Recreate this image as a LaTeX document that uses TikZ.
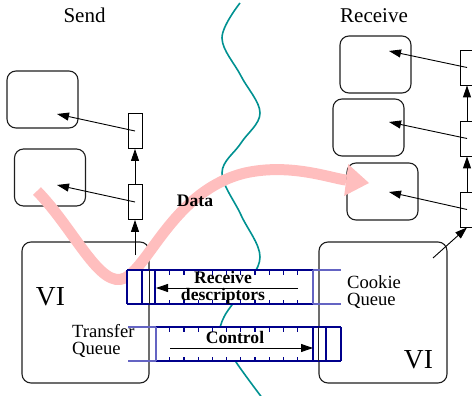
\documentclass[tikz,border=0pt]{standalone}
\usepackage{fontspec}
\setmainfont{Liberation Serif}
\usetikzlibrary{arrows.meta,calc}

\definecolor{qblue}{RGB}{0,0,140}
\definecolor{qlight}{RGB}{100,100,195}
\definecolor{wavecol}{RGB}{0,145,145}
\definecolor{flowcol}{RGB}{255,190,190}
\definecolor{edgecol}{RGB}{30,30,30}

\begin{document}
\begin{tikzpicture}[x=1pt,y=-1pt,
  buf/.style={draw=edgecol, line width=1.1pt, rounded corners=9pt,
    minimum width=71pt, minimum height=57pt, inner sep=0pt},
  vibox/.style={draw=edgecol, line width=1.1pt, rounded corners=9pt,
    minimum width=127pt, minimum height=141pt, inner sep=0pt},
  cell/.style={draw=black, line width=0.9pt, minimum width=14pt,
    minimum height=35pt, inner sep=0pt},
  ptr/.style={-{Triangle[length=12pt,width=8pt]}, line width=0.9pt},
  qline/.style={draw=qblue, line width=1.2pt},
  qthin/.style={draw=qlight, line width=1.1pt},
  txt/.style={inner sep=0pt, font=\fontsize{18.6}{17}\selectfont, align=left},
  btxt/.style={inner sep=0pt, font=\fontsize{17.6}{17.7}\selectfont\bfseries, align=center},
  head/.style={inner sep=0pt, font=\fontsize{21}{24}\selectfont},
  big/.style={inner sep=0pt, font=\fontsize{27.5}{30}\selectfont},
]
\useasboundingbox (0,0) rectangle (472,396);

% titles
\node[head, anchor=base] (send) at (84.5,22.7) {Send};
\node[head, anchor=base] (recv) at (374,22.7) {Receive};

% buffers on the send side
\node[buf] (l1) at (42.5,99.5) {};
\node[buf] (l2) at (50,177.5) {};
% buffers on the receive side
\node[buf] (r1) at (375.5,64.5) {};
\node[buf] (r2) at (368.5,127.5) {};
\node[buf] (r3) at (382.5,191.5) {};

% descriptor cells
\node[cell] (lt) at (135,131) {};
\node[cell] (lb) at (135,202) {};
\node[cell] (rc1) at (467,67.5) {};
\node[cell] (rc2) at (467,138.5) {};
\node[cell] (rc3) at (467,209.5) {};

% VI endpoints
\node[vibox] (vil) at (85.5,312.5) {};
\node[vibox, minimum width=128pt] (vir) at (383,312.5) {};

% pointers from descriptors to buffers
\draw[ptr] (lt.center) -- ($(l1.center)+(14.5,14.5)$);
\draw[ptr] (lb.center) -- ($(l2.center)+(7,7.5)$);
\draw[ptr] (rc1.center) -- ($(r1.center)+(13.5,-13.5)$);
\draw[ptr] (rc2.center) -- ($(r2.center)+(20.5,-5.5)$);
\draw[ptr] (rc3.center) -- ($(r3.center)+(6.5,0.5)$);

% descriptor chains
\coordinate (lsrc) at (135,255);
\coordinate (rsrc) at (433,258);
\draw[ptr] (lsrc) -- (lb.south);
\draw[ptr] (lb.north) -- (lt.south);
\draw[ptr] (rc3.north) -- (rc2.south);
\draw[ptr] (rc2.north) -- (rc1.south);
\draw[ptr] (rsrc) -- (rc3.south);

% network boundary
\draw[wavecol, line width=1.6pt] plot[smooth, tension=0.6] coordinates
  {(240,3) (222,38) (241,76) (260,113) (241,143) (222,173) (241,215)
   (260,257) (241,292) (224,317) (221,335) (236,362) (263,399)};

% data flow
\draw[flowcol, line width=11pt,
      -{Triangle[length=23pt,width=32pt,line width=0pt]}]
  (37,191) .. controls (75,230) and (100,290) .. (125,278)
  .. controls (150,265) and (175,190) .. (245,173)
  .. controls (290,163) and (330,178) .. (369,183);

% receive descriptor queue
\fill[white] (127,270) rectangle (313,304);
\draw[qline] (127,270) -- (313,270) (127,304) -- (313,304)
  (127,270) -- (127,304) (142,270) -- (142,304) (155,270) -- (155,304);
\draw[qthin] (313,270) -- (313,304) (313,270) -- (341,270) (313,304) -- (341,304);
\foreach \t in {0,...,9}
  \draw[qline] ({169.7+14.2*\t},270) -- ++(0,4.5) ({169.7+14.2*\t},304) -- ++(0,-4.5);

% control queue
\fill[white] (156,327) rectangle (341,361);
\draw[qline] (156,327) -- (341,327) (156,361) -- (341,361)
  (341,327) -- (341,361) (326,327) -- (326,361) (313,327) -- (313,361);
\draw[qthin] (156,327) -- (156,361) (128,327) -- (156,327) (128,361) -- (156,361);
\foreach \t in {0,...,9}
  \draw[qline] ({169.7+14.2*\t},327) -- ++(0,4.5) ({169.7+14.2*\t},361) -- ++(0,-4.5);

% VI box edges seen through the queues
\draw[edgecol, line width=1.1pt] (vil.east |- 0,270) -- (vil.east |- 0,304);
\draw[edgecol, line width=1.1pt] (vir.west |- 0,327) -- (vir.west |- 0,361);

% queue directions
\coordinate (rqa) at (298,288);
\coordinate (rqb) at (156,288);
\coordinate (cqa) at (170,348);
\coordinate (cqb) at (313,348);
\draw[ptr] (rqa) -- (rqb);
\draw[ptr] (cqa) -- (cqb);

% labels
\node[btxt] (rdesc) at (223,287.7) {Receive\\descriptors};
\node[btxt, anchor=base] (ctrl) at (235,343.3) {Control};
\node[btxt, anchor=base] (data) at (195,206) {Data};
\node[txt, anchor=west] (tq) at (72,341.2) {Transfer\\Queue};
\node[txt, anchor=west] (cq) at (347,292.2) {Cookie\\Queue};
\node[big, anchor=base] (vl) at (50.5,305) {VI};
\node[big, anchor=base] (vr) at (418.5,368) {VI};
\end{tikzpicture}
\end{document}
